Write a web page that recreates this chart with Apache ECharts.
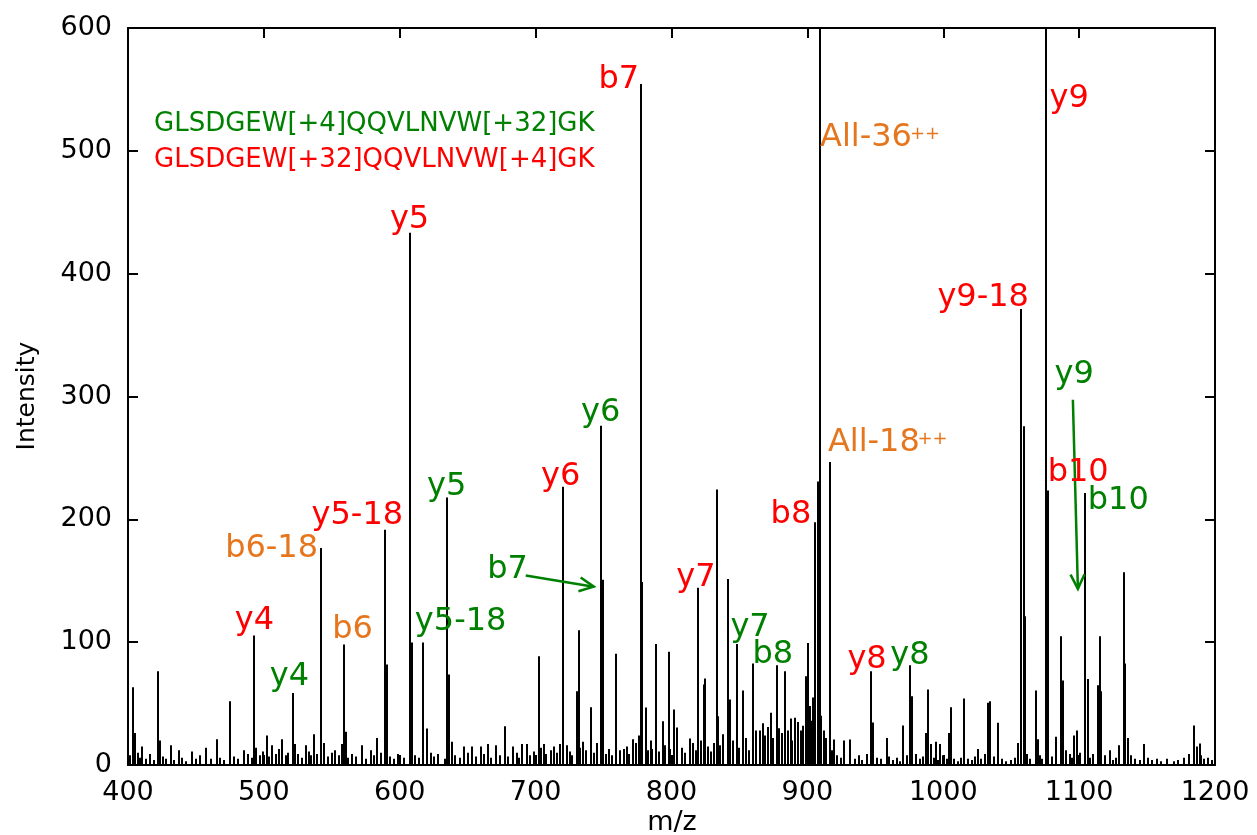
<!DOCTYPE html>
<html>
<head>
<meta charset="utf-8">
<script src="https://cdn.jsdelivr.net/npm/echarts@6/dist/echarts.min.js"></script>
<style>
  html, body { margin: 0; padding: 0; background: #fff; }
  #chart { width: 1257px; height: 835px; }
</style>
</head>
<body>
<div id="chart"></div>
<script>
// Axis ranges and ticks
const mzRange = [400, 1200];
const mzStep = 100;
const intensityRange = [0, 600];
const intensityStep = 100;

// Assigned fragment ions [m/z, intensity]; off-scale precursor peaks are clipped at the top
const ionPeaks = [
  [493.0, 105.4], [521.3, 58.7], [541.7, 176.7], [559.3, 98], [589.5, 191.6],
  [607.4, 433.3], [617.0, 99.7], [635.0, 217.7], [720.4, 226.6], [747.9, 276.2],
  [749.6, 150.9], [777.4, 554.5], [819.6, 144.2], [848.1, 98.6], [859.7, 82.6],
  [905.6, 197.6], [907.5, 230.9], [909.0, 700], [916.8, 246.7], [946.8, 76.3],
  [975.8, 81.2], [1057.5, 371.2], [1075.8, 720], [1077.0, 223.4], [1104.5, 221.5]
];

// Other resolved peaks [m/z, intensity]
const minorPeaks = [
  [403.7, 63.3], [405.4, 26], [410.3, 15], [422.1, 76.3], [423.3, 20], [431.9, 16],
  [437.3, 12], [447.1, 11], [457.7, 14], [465.6, 21], [475.4, 52], [485.2, 12],
  [494.3, 14], [502.4, 24], [506.1, 16], [513.4, 21], [522.7, 17], [531.1, 16],
  [537.2, 25], [544.6, 18], [552.7, 12], [557.6, 17], [560.1, 27], [572.4, 16],
  [578.5, 12], [583.4, 22], [590.8, 81.8], [608.7, 99.7], [619.7, 29.7], [622.7, 10],
  [636.2, 73.6], [638.7, 19], [647.2, 15], [653.4, 15], [659.5, 15], [664.9, 17],
  [670.6, 16], [677.2, 31.6], [683.6, 15], [690.2, 17], [693.4, 17], [702.5, 88.5],
  [706.1, 17], [713.5, 15], [717.9, 17], [730.4, 60], [731.9, 109.8], [740.6, 47],
  [759.5, 90.5], [765.1, 13], [771.3, 21], [778.6, 149], [781.1, 46.8], [786.0, 13],
  [788.8, 98.6], [793.4, 35.6], [797.8, 92.1], [801.9, 45.2], [804.4, 30.5], [813.7, 21.6],
  [823.6, 65.5], [825.0, 70.4], [833.4, 224.2], [834.3, 39.7], [841.7, 151.5], [843.2, 53.3],
  [852.7, 60.6], [862.1, 28], [873.1, 42.5], [877.3, 81.2], [883.5, 76.3], [887.9, 37.8],
  [890.8, 38.4], [896.5, 32], [898.9, 72.3], [900.6, 99.4], [919.8, 20.7], [927.1, 20],
  [931.6, 20.7], [948.5, 34.6], [958.6, 22], [970.6, 32.1], [977.0, 56], [987.3, 26],
  [989.0, 61.4], [991.0, 17], [994.7, 19], [997.9, 17], [1004.5, 26], [1005.7, 47],
  [1015.5, 54.1], [1025.4, 13], [1033.2, 50.6], [1034.7, 51.9], [1040.6, 34.3], [1054.9, 18],
  [1059.3, 275.7], [1060.3, 121], [1068.4, 60.6], [1069.6, 21], [1083.3, 23], [1086.3, 104.8],
  [1088.1, 68.8], [1096.2, 24], [1098.6, 28], [1106.4, 70.1], [1113.8, 65], [1115.0, 104.8],
  [1116.2, 60], [1122.9, 12], [1129.7, 16], [1132.7, 156.9], [1133.9, 82.6], [1135.9, 22],
  [1148.1, 17], [1184.2, 32.1], [1186.9, 15], [1188.6, 17.5]
];

// Low-level baseline signal [m/z, intensity]
const baselinePeaks = [
  [401.5, 8], [407, 10], [409, 6], [413, 5], [416, 9], [419, 4], [426, 7], [428, 5],
  [434, 4], [440, 6], [443, 3], [450, 5], [453, 8], [461, 5], [468, 6], [471, 4],
  [478, 7], [481, 5], [488, 9], [491, 6], [497, 8], [499, 11], [504, 7], [509, 9],
  [511, 13], [516, 8], [518, 10], [525, 9], [528, 6], [533, 11], [535, 8], [539, 9],
  [547, 7], [550, 10], [555, 8], [562, 6], [565, 9], [568, 7], [575, 5], [581, 8],
  [586, 10], [593, 7], [596, 5], [599, 9], [603, 6], [611, 8], [614, 6], [625, 7],
  [628, 9], [633, 5], [641, 8], [644, 6], [650, 10], [656, 7], [662, 9], [667, 6],
  [674, 8], [680, 7], [686, 10], [688, 6], [696, 8], [699, 11],
  [704, 14], [708, 9], [711, 12], [716, 10], [723, 16], [725, 11], [727, 8], [733, 14],
  [735, 19], [737, 12], [743, 10], [745, 18], [752, 9], [754, 13], [756, 8], [762, 12],
  [767, 15], [769, 9], [774, 18], [776, 24], [783, 12], [785, 20], [791, 11], [795, 16],
  [799, 13], [808, 14], [810, 10], [816, 18], [818, 12], [822, 20], [827, 15], [829, 11],
  [831, 18], [836, 16], [838, 25], [845, 20], [850, 14], [855, 22], [857, 12], [865, 28],
  [867, 34], [869, 24], [871, 31], [875, 22], [879, 30], [881, 26], [886, 28], [889, 20],
  [893, 35], [895, 28], [902, 48], [903, 36], [904, 55], [910, 40], [912, 28], [914, 22],
  [918, 12], [922, 8], [925, 6],
  [935, 5], [938, 8], [940, 4], [944, 9], [951, 6], [954, 5], [960, 7], [963, 4],
  [966, 6], [968, 3], [973, 8], [980, 9], [983, 5], [985, 7], [993, 6], [996, 4],
  [1000, 8], [1003, 5], [1008, 5], [1011, 3], [1013, 6], [1018, 5], [1021, 4], [1023, 7],
  [1028, 5], [1031, 9], [1037, 7], [1043, 5], [1046, 3], [1050, 4], [1053, 6], [1062, 9],
  [1064, 5], [1071, 8], [1073, 5], [1080, 7], [1090, 12], [1093, 9], [1095, 6], [1101, 10],
  [1108, 6], [1110, 9], [1119, 8], [1125, 4], [1127, 6], [1138, 8], [1141, 5], [1145, 4],
  [1151, 6], [1154, 4], [1157, 5], [1160, 3], [1165, 5], [1170, 3], [1173, 4], [1177, 6],
  [1181, 9], [1190, 8], [1192, 5], [1195, 6], [1198, 4]
];

// Peptide sequences for the two isomeric labelings
const sequences = ['GLSDGEW[+4]QQVLNVW[+32]GK', 'GLSDGEW[+32]QQVLNVW[+4]GK'];

// Ion annotations, centred at [m/z, intensity]: text and which peptide they belong to
const ionLabels = [
  [761.2, 557.8, 'b7', 'heavy'], [607.2, 443.9, 'y5', 'heavy'], [1092.7, 542.3, 'y9', 'heavy'],
  [1029.4, 380.4, 'y9-18', 'heavy'], [1096.4, 317.7, 'y9', 'light'], [1099.3, 237.8, 'b10', 'heavy'],
  [1128.8, 215.1, 'b10', 'light'], [887.9, 203.8, 'b8', 'heavy'], [718.4, 234.7, 'y6', 'heavy'],
  [747.9, 286.8, 'y6', 'light'], [634.5, 226.6, 'y5', 'light'], [568.8, 203.0, 'y5-18', 'heavy'],
  [505.7, 176.1, 'b6-18', 'shared'], [493.0, 117.6, 'y4', 'heavy'], [565.2, 110.2, 'b6', 'shared'],
  [518.8, 72.0, 'y4', 'light'], [644.8, 116.8, 'y5-18', 'light'], [679.4, 159.1, 'b7', 'light'],
  [818.0, 152.6, 'y7', 'heavy'], [857.8, 111.9, 'y7', 'light'], [874.6, 89.9, 'b8', 'light'],
  [943.9, 85.8, 'y8', 'heavy'], [975.5, 89.1, 'y8', 'light']
];

// Doubly charged neutral-loss annotations, left edge at [m/z, intensity]
const chargeLabels = [
  [909.3, 510.6, 'All-36'], [915.1, 262.0, 'All-18']
];
const chargeMarks = [
  [975.5, 513.5], [981.0, 265.0]
];

// Arrows from a label to its peak: [start, end] in [m/z, intensity]
const arrows = [
  [[692.7, 154.2], [742.8, 145.2]],
  [[1095.4, 297.4], [1099.1, 143.4]]
];

const FONT = '"DejaVu Sans", "Liberation Sans", sans-serif';
const ink = { light: '#008000', heavy: '#ff0000', shared: '#e6761e', axis: '#000000' };

const chart = echarts.init(document.getElementById('chart'), null, { renderer: 'canvas' });

function stickItem(params, api) {
  const mz = api.value(0);
  const base = api.coord([mz, 0]);
  const top = api.coord([mz, api.value(1)]);
  const x = Math.round(base[0]);
  return {
    type: 'line',
    shape: { x1: x, y1: base[1], x2: x, y2: top[1] },
    style: { stroke: '#000', lineWidth: 2 }
  };
}

function ionLabelItem(params, api) {
  const d = ionLabels[params.dataIndex];
  const p = api.coord([d[0], d[1]]);
  return {
    type: 'text', x: p[0], y: p[1],
    style: { text: d[2], fill: ink[d[3]], font: '32px ' + FONT, align: 'center', verticalAlign: 'middle' }
  };
}

function chargeLabelItem(params, api) {
  const d = chargeLabels[params.dataIndex];
  const p = api.coord([d[0], d[1]]);
  const q = api.coord(chargeMarks[params.dataIndex]);
  return {
    type: 'group',
    children: [
      { type: 'text', x: p[0], y: p[1],
        style: { text: d[2], fill: ink.shared, font: '32px ' + FONT, align: 'left', verticalAlign: 'middle' } },
      { type: 'text', x: q[0], y: q[1],
        style: { text: '++', fill: ink.shared, font: '18px ' + FONT, align: 'left', verticalAlign: 'middle' } }
    ]
  };
}

function arrowItem(params, api) {
  const a = arrows[params.dataIndex];
  const p0 = api.coord(a[0]);
  const p1 = api.coord(a[1]);
  const ang = Math.atan2(p1[1] - p0[1], p1[0] - p0[0]);
  const len = 16, spread = 0.45;
  const h1 = [p1[0] - len * Math.cos(ang - spread), p1[1] - len * Math.sin(ang - spread)];
  const h2 = [p1[0] - len * Math.cos(ang + spread), p1[1] - len * Math.sin(ang + spread)];
  return {
    type: 'group',
    children: [
      { type: 'line', shape: { x1: p0[0], y1: p0[1], x2: p1[0], y2: p1[1] },
        style: { stroke: ink.light, lineWidth: 2.5 } },
      { type: 'polyline', shape: { points: [h1, p1, h2] },
        style: { stroke: ink.light, lineWidth: 2.5, fill: null } }
    ]
  };
}

const axisLineStyle = { color: ink.axis, width: 2 };
function valueAxis(range, step, position, showLabels, labelMargin) {
  return {
    type: 'value', min: range[0], max: range[1], interval: step, position: position,
    axisLine: { show: true, onZero: false, lineStyle: axisLineStyle },
    axisTick: { show: true, inside: true, length: 10, lineStyle: axisLineStyle },
    axisLabel: { show: showLabels, color: '#000', fontSize: 27, fontFamily: FONT, margin: labelMargin,
                 formatter: v => String(v) },
    splitLine: { show: false }
  };
}

chart.setOption({
  animation: false,
  backgroundColor: '#ffffff',
  grid: { left: 128, right: 42, top: 28, bottom: 70, containLabel: false },
  xAxis: [
    valueAxis(mzRange, mzStep, 'bottom', true, 14),
    valueAxis(mzRange, mzStep, 'top', false, 14)
  ],
  yAxis: [
    valueAxis(intensityRange, intensityStep, 'left', true, 16),
    valueAxis(intensityRange, intensityStep, 'right', false, 16)
  ],
  graphic: [
    { type: 'text', x: 154, y: 124,
      style: { text: sequences[0], fill: ink.light, font: '26px ' + FONT, verticalAlign: 'middle' } },
    { type: 'text', x: 154, y: 160,
      style: { text: sequences[1], fill: ink.heavy, font: '26px ' + FONT, verticalAlign: 'middle' } },
    { type: 'text', x: 672, y: 823,
      style: { text: 'm/z', fill: '#000', font: '27px ' + FONT, align: 'center', verticalAlign: 'middle' } },
    { type: 'text', x: 27, y: 396, rotation: Math.PI / 2,
      style: { text: 'Intensity', fill: '#000', font: '25px ' + FONT, align: 'center', verticalAlign: 'middle' } }
  ],
  series: [
    { type: 'custom', name: 'baseline', clip: true, silent: true, encode: { x: 0, y: 1 },
      renderItem: stickItem, data: baselinePeaks },
    { type: 'custom', name: 'peaks', clip: true, silent: true, encode: { x: 0, y: 1 },
      renderItem: stickItem, data: minorPeaks },
    { type: 'custom', name: 'ions', clip: true, silent: true, encode: { x: 0, y: 1 },
      renderItem: stickItem, data: ionPeaks },
    { type: 'custom', name: 'arrows', silent: true, encode: { x: 0, y: 1 },
      renderItem: arrowItem, data: arrows.map(a => a[0]) },
    { type: 'custom', name: 'ion labels', silent: true, encode: { x: 0, y: 1 },
      renderItem: ionLabelItem, data: ionLabels.map(d => [d[0], d[1]]) },
    { type: 'custom', name: 'charge labels', silent: true, encode: { x: 0, y: 1 },
      renderItem: chargeLabelItem, data: chargeLabels.map(d => [d[0], d[1]]) }
  ]
});
</script>
</body>
</html>
